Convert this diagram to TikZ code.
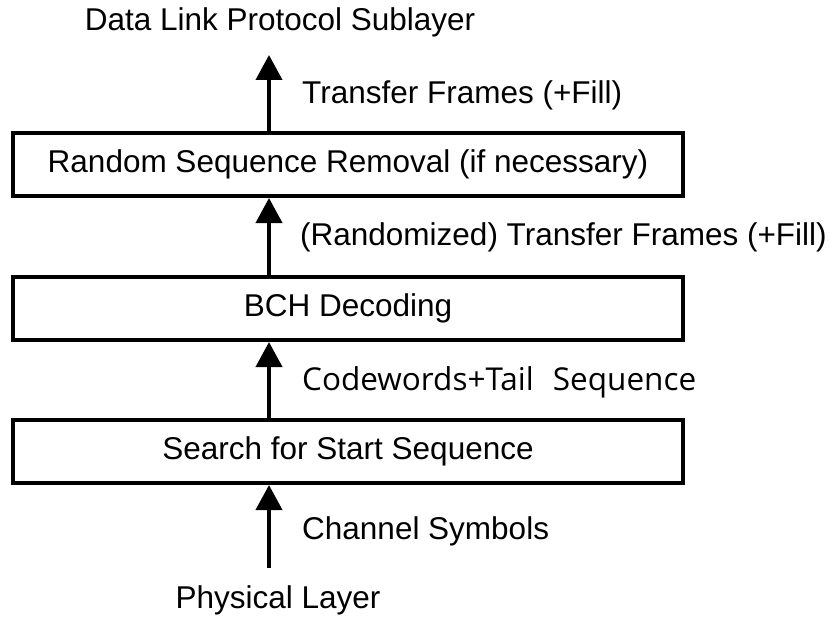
\documentclass[tikz,border=0pt]{standalone}
\usepackage{fontspec}
\setmainfont{Liberation Sans}
\newfontfamily\segoe{Open Sans}
\usetikzlibrary{arrows.meta}
\tikzset{
  stagebox/.style={draw=black, line width=4pt, minimum width=670pt, minimum height=63pt, inner sep=0pt, font=\fontsize{31.5}{38}\selectfont},
  flowlabel/.style={anchor=west, inner sep=0pt, font=\fontsize{31.5}{38}\selectfont},
  endlabel/.style={inner sep=0pt, font=\fontsize{31.5}{38}\selectfont},
  flow/.style={line width=4pt, -{Triangle[length=25pt,width=26pt]}}
}
\begin{document}
\begin{tikzpicture}[x=1pt,y=-1pt]
\useasboundingbox (0,0) rectangle (830,618);
\coordinate (axis) at (269,0);
\node[endlabel] (top) at (280,22) {Data Link Protocol Sublayer};
\coordinate (toptip) at (269,55);
\node[stagebox] (b1) at (348,164.5) {Random Sequence Removal (if necessary)};
\node[stagebox] (b2) at (348,308.5) {BCH Decoding};
\node[stagebox] (b3) at (348,451.5) {Search for Start Sequence};
\node[endlabel] (bot) at (278,600) {Physical Layer};
\coordinate (botstart) at (269,568);
\node[flowlabel] (l1) at (302,95) {Transfer Frames (+Fill)};
\node[flowlabel] (l2) at (300,237) {(Randomized) Transfer Frames (+Fill)};
\node[flowlabel, font=\segoe\fontsize{31.5}{38}\selectfont] (l3) at (302,382) {Codewords+Tail\hspace{19pt}Sequence};
\node[flowlabel] (l4) at (302,531) {Channel Symbols};
\draw[flow] (b1.north -| axis) -- (toptip);
\draw[flow] (b2.north -| axis) -- (b1.south -| axis);
\draw[flow] (b3.north -| axis) -- (b2.south -| axis);
\draw[flow] (botstart) -- (b3.south -| axis);
\end{tikzpicture}
\end{document}
